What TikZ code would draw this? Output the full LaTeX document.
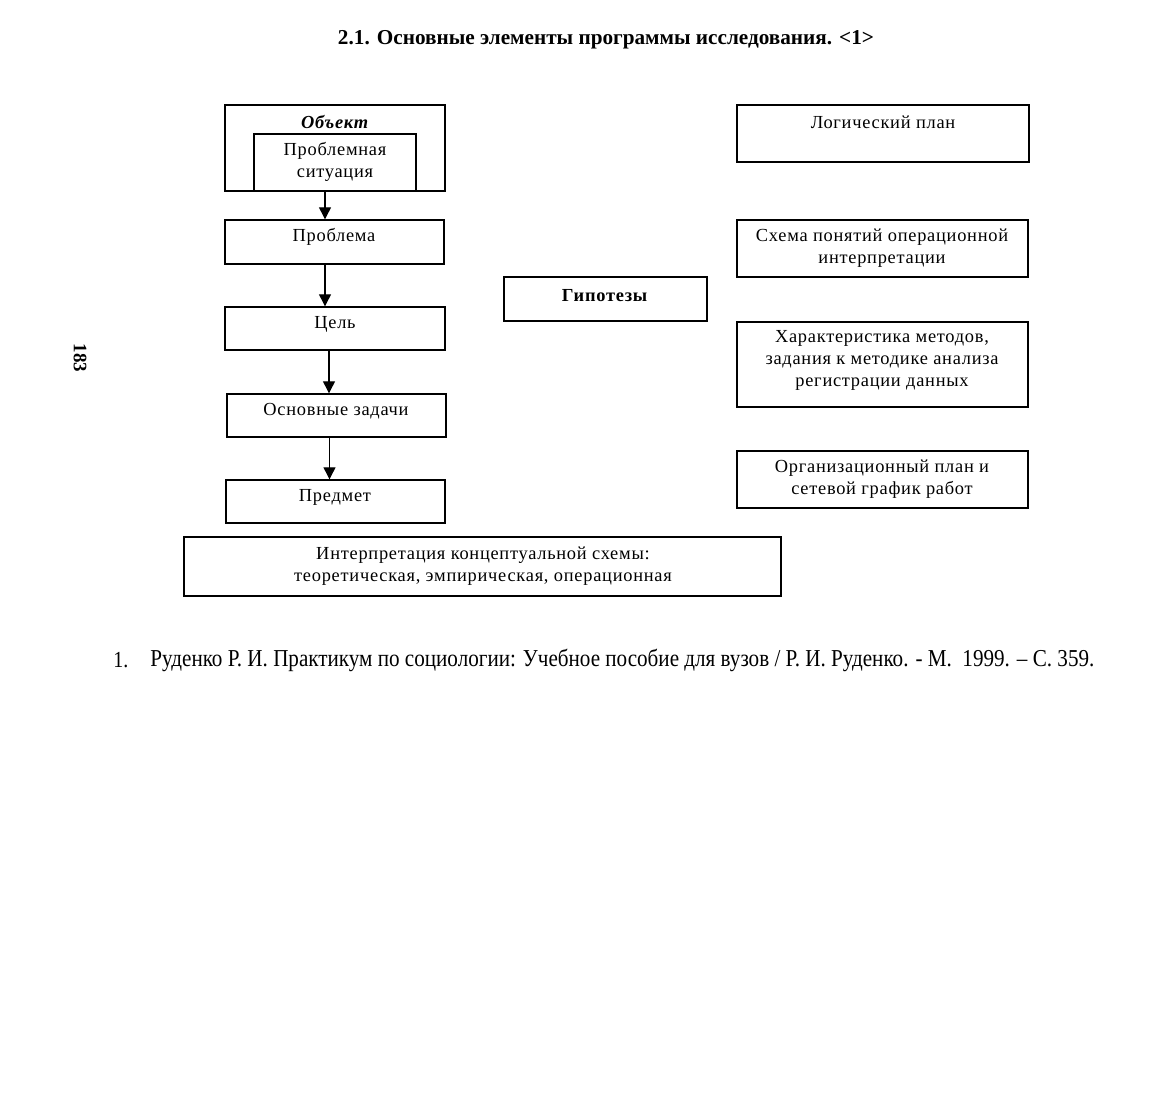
\documentclass[tikz,border=0pt]{standalone}
\usepackage{fontspec}
\setmainfont{Liberation Serif}
\newfontfamily\boxfont[LetterSpace=4]{Liberation Serif}
\usetikzlibrary{arrows.meta,fit}
\begin{document}
\begin{tikzpicture}[x=0.5pt,y=-0.5pt,
  box/.style={draw, line width=0.7pt, rectangle, inner sep=0pt},
  txt/.style={font=\boxfont\fontsize{9.2}{11}\selectfont, align=center, inner sep=0pt},
  arr/.style={line width=0.6pt, -{Triangle[length=6pt,width=6pt]}}]
\useasboundingbox (0,0) rectangle (1167,1098);

% title
\node[inner sep=0pt] (title) at (606,40) {\resizebox{268pt}{!}{\fontsize{9.5}{11}\selectfont\bfseries 2.1. Основные элементы программы исследования. <1>}};

% page number
\node[rotate=-90, inner sep=0pt, font=\fontsize{9.5}{11}\selectfont\bfseries] (page) at (80,358) {183};

% left column
\node[box, fit={(225,105) (445,191)}] (obj) {};
\node[box, fit={(254,134) (416,191)}] (sit) {};
\node[txt] (tobj) at (335,122) {\textbf{\textit{Объект}}};
\node[txt] (tsit) at (335,162) {Проблемная\\ситуация};

\node[box, fit={(225,220) (444,264)}] (prob) {};
\node[txt] (tprob) at (334,237) {Проблема};

\node[box, fit={(225,307) (445,350)}] (goal) {};
\node[txt] (tgoal) at (335,324) {Цель};

\node[box, fit={(227,394) (446,437)}] (task) {};
\node[txt] (ttask) at (336,411) {Основные задачи};

\node[box, fit={(226,480) (445,523)}] (subj) {};
\node[txt] (tsubj) at (335,497) {Предмет};

\node[box, fit={(184,537) (781,596)}] (interp) {};
\node[txt] (tinterp) at (483,566) {Интерпретация концептуальной схемы:\\теоретическая, эмпирическая, операционная};

% middle
\node[box, fit={(504,277) (707,321)}] (hyp) {};
\node[txt] (thyp) at (605,296) {\textbf{Гипотезы}};

% right column
\node[box, fit={(737,105) (1029,162)}] (logic) {};
\node[txt] (tlogic) at (883,122) {Логический план};

\node[box, fit={(737,220) (1028,277)}] (scheme) {};
\node[txt] (tscheme) at (882,248) {Схема понятий операционной\\интерпретации};

\node[box, fit={(737,322) (1028,407)}] (meth) {};
\node[txt] (tmeth) at (882,360) {Характеристика методов,\\задания к методике анализа\\регистрации данных};

\node[box, fit={(737,451) (1028,508)}] (org) {};
\node[txt] (torg) at (882,479) {Организационный план и\\сетевой график работ};

% arrows
\draw[arr] ([xshift=-5pt]obj.south) -- ([xshift=-5pt]obj.south |- prob.north);
\draw[arr] ([xshift=-4.75pt]prob.south) -- ([xshift=-4.75pt]prob.south |- goal.north);
\draw[arr] ([xshift=-3pt]goal.south) -- ([xshift=-3pt]goal.south |- task.north);
\draw[arr] ([xshift=-3.5pt]task.south) -- ([xshift=-3.5pt]task.south |- subj.north);

% footnote
\node[anchor=west, inner sep=0pt] (fn1) at (113,660) {\scalebox{1}[1.15]{\fontsize{10}{12}\selectfont 1.}};
\node[anchor=west, inner sep=0pt] (fn) at (150,660) {\scalebox{1}[1.15]{\resizebox{472pt}{!}{\fontsize{10}{12}\selectfont Руденко Р. И. Практикум по социологии: Учебное пособие для вузов / Р. И. Руденко. - М.\ \ 1999. -- С. 359.}}};
\end{tikzpicture}
\end{document}
